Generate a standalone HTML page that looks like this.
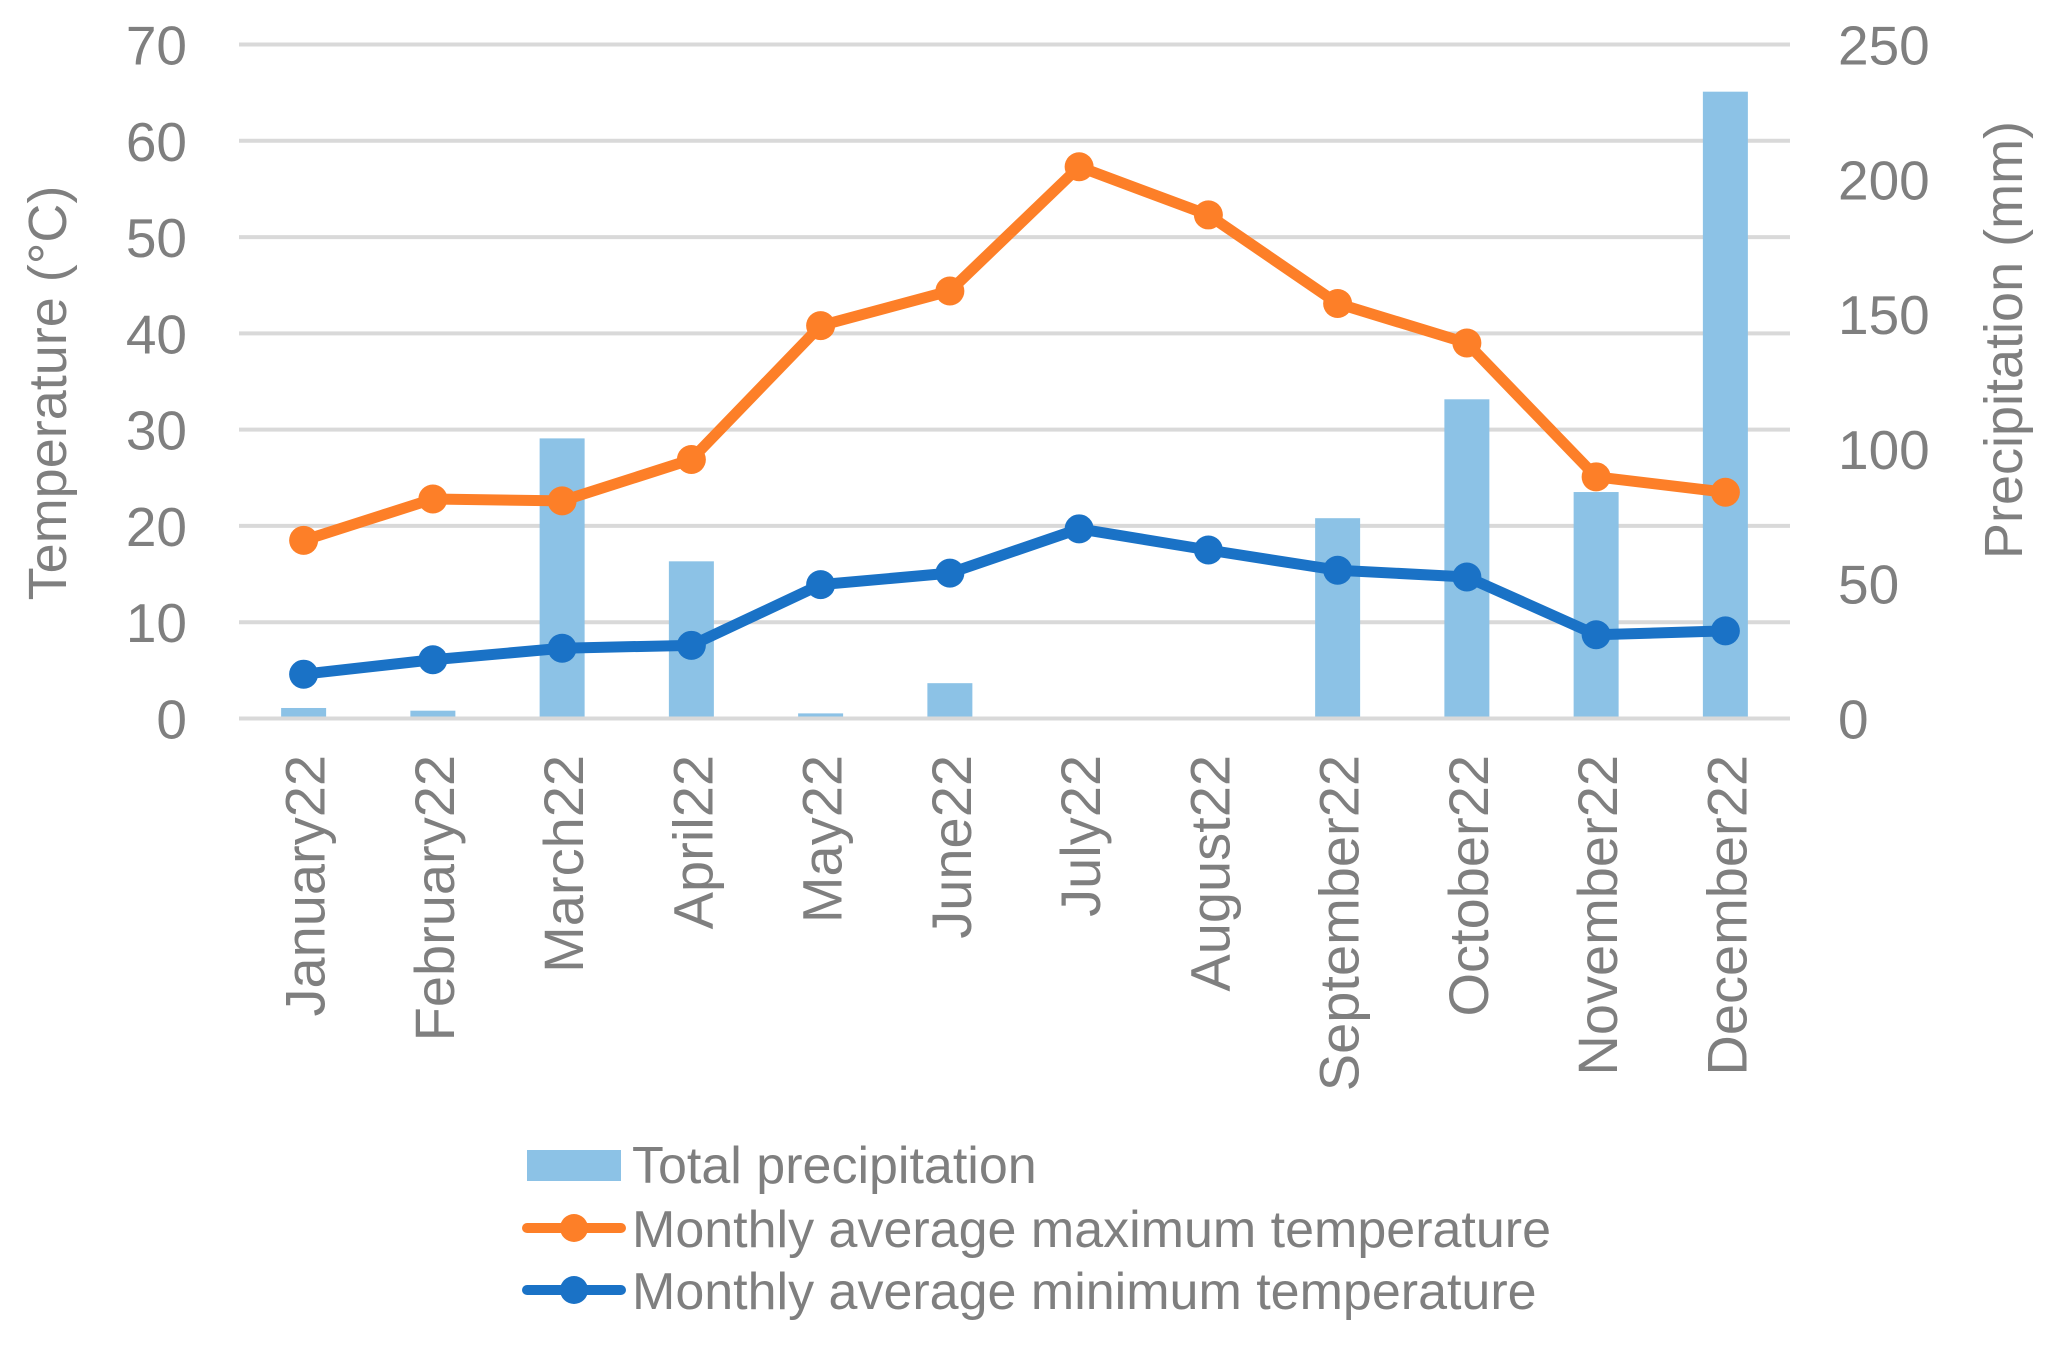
<!DOCTYPE html>
<html><head><meta charset="utf-8"><style>
html,body{margin:0;padding:0;background:#fff;}
svg text{font-family:"Liberation Sans",Arial,sans-serif;fill:#7f7f7f;}
</style></head><body>
<svg id="chart" width="2049" height="1345" viewBox="0 0 2049 1345" xmlns="http://www.w3.org/2000/svg">
<g id="grid"></g><g id="bars"></g><g id="lines"></g><g id="axes"></g>
<text transform="translate(66,393) rotate(-90)" text-anchor="middle" font-size="54">Temperature (°C)</text>
<text transform="translate(2022,340) rotate(-90)" text-anchor="middle" font-size="54">Precipitation (mm)</text>
<g>
<rect x="527" y="1150" width="94" height="31" fill="#8cc2e6"/>
<text x="632" y="1183" font-size="52">Total precipitation</text>
<line x1="527" y1="1228" x2="621" y2="1228" stroke="#fd7f28" stroke-width="10" stroke-linecap="round"/>
<circle cx="574" cy="1228" r="14" fill="#fd7f28"/>
<text x="632" y="1247" font-size="52">Monthly average maximum temperature</text>
<line x1="527" y1="1290" x2="621" y2="1290" stroke="#1a72c6" stroke-width="10" stroke-linecap="round"/>
<circle cx="574" cy="1290" r="14" fill="#1a72c6"/>
<text x="632" y="1309" font-size="52">Monthly average minimum temperature</text>
</g>
</svg>
<script>
const categories = ["January22","February22","March22","April22","May22","June22","July22","August22","September22","October22","November22","December22"];
const precipitation = [3.9,2.9,103.9,58.3,1.9,13.1,0,0,74.3,118.4,84,232.5];
const maxTemp = [18.5,22.8,22.6,26.9,40.8,44.4,57.3,52.3,43.1,39.0,25.1,23.5];
const minTemp = [4.6,6.1,7.3,7.6,13.9,15.1,19.7,17.5,15.4,14.7,8.7,9.1];
const leftTicks = [0,10,20,30,40,50,60,70];
const rightTicks = [0,50,100,150,200,250];

const NS = "http://www.w3.org/2000/svg";
const X0 = 239, X1 = 1790, Y0 = 718.5, YT = 44.5;
const band = (X1 - X0) / categories.length;
const xc = i => X0 + band * (i + 0.5);
const yT = v => Y0 - (v / 70) * (Y0 - YT);
const yP = v => Y0 - (v / 250) * (Y0 - YT);
function mk(tag, attrs, parent){const e=document.createElementNS(NS,tag);for(const k in attrs)e.setAttribute(k,attrs[k]);parent.appendChild(e);return e;}
const grid=document.getElementById('grid'),bars=document.getElementById('bars'),lines=document.getElementById('lines'),axes=document.getElementById('axes');

leftTicks.forEach(t=>{
  const l=mk('line',{x1:X0,x2:X1,y1:yT(t),y2:yT(t),stroke:'#d9d9d9','stroke-width':4},grid);
  
  
  const tx=mk('text',{x:187,y:yT(t)+20,'text-anchor':'end','font-size':55},axes);
  tx.textContent=t;
  
  
});
rightTicks.forEach(t=>{
  const tx=mk('text',{x:1838,y:yP(t)+20,'text-anchor':'start','font-size':55},axes);
  tx.textContent=t;
  
  
});
precipitation.forEach((v,i)=>{
  if(v<=0) return;
  const r=mk('rect',{x:xc(i)-22.5,y:yP(v),width:45,height:Y0-2-yP(v),fill:'#8cc2e6'},bars);
  
  
});
function series(vals,color,name){
  const p=mk('polyline',{points:vals.map((v,i)=>xc(i)+','+yT(v)).join(' '),fill:'none',stroke:color,'stroke-width':11,'stroke-linejoin':'round'},lines);
  
  
  vals.forEach((v,i)=>{
    const c=mk('circle',{cx:xc(i),cy:yT(v),r:14.5,fill:color},lines);
    
    
  });
}
series(maxTemp,'#fd7f28','max-temp');
series(minTemp,'#1a72c6','min-temp');
categories.forEach((c,i)=>{
  const tx=mk('text',{transform:'translate('+(xc(i)+21)+',755) rotate(-90)','text-anchor':'end','font-size':56},axes);
  tx.textContent=c;
  
  
});
</script>
</body></html>
